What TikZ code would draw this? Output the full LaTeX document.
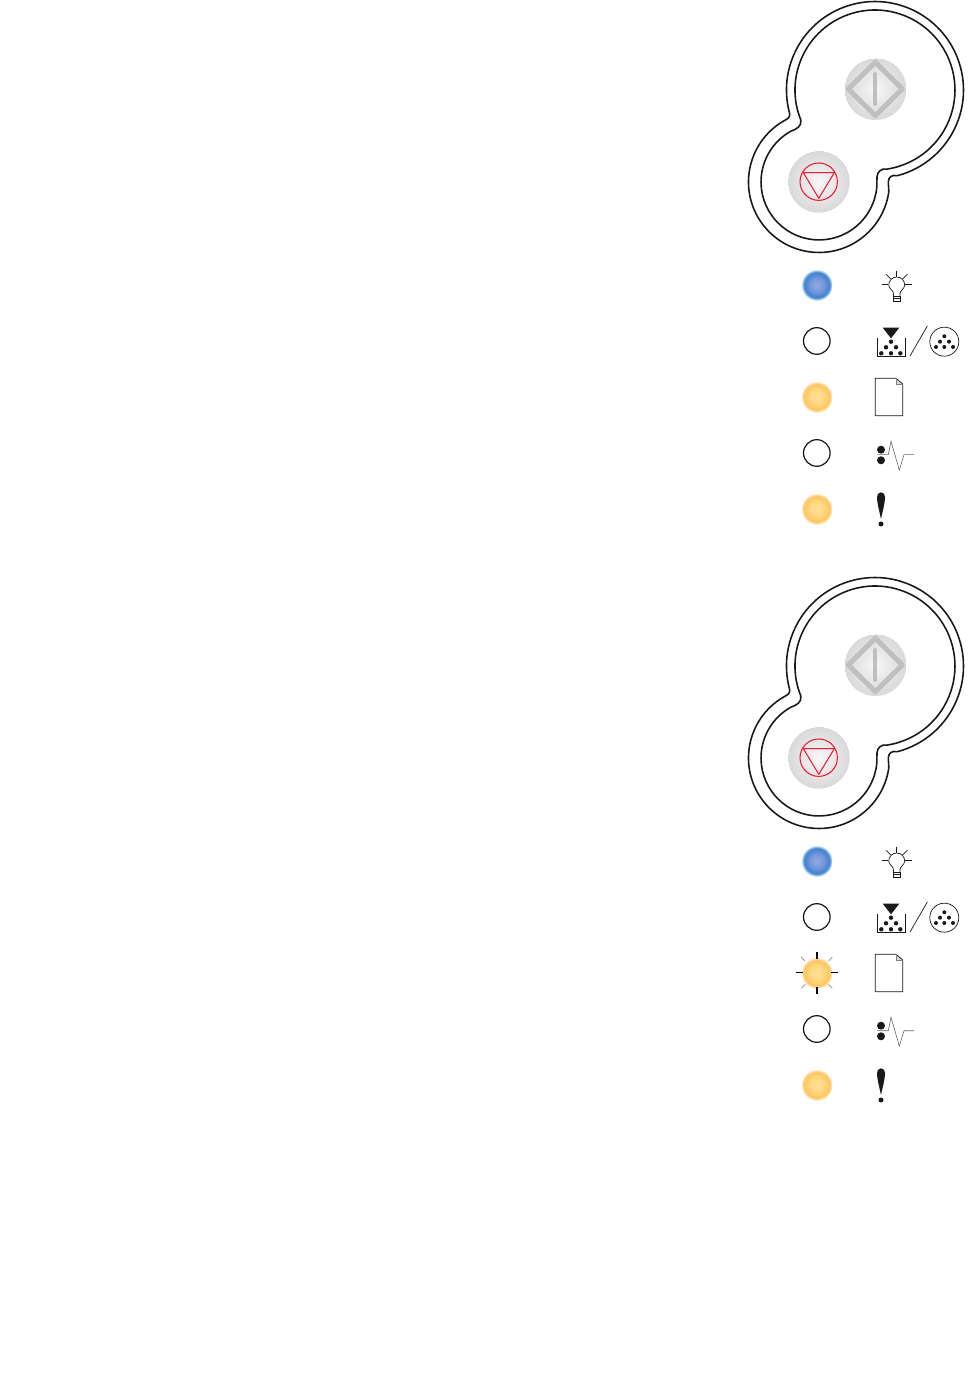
\documentclass[tikz,border=0pt]{standalone}
\pgfdeclareradialshading{ledblue}{\pgfpointorigin}{rgb(0bp)=(0.60,0.66,0.88); rgb(11bp)=(0.45,0.60,0.85); rgb(19.5bp)=(0.26,0.51,0.80); rgb(21bp)=(0.36,0.62,0.88); rgb(23bp)=(0.72,0.86,0.97); rgb(25bp)=(1,1,1)}
\pgfdeclareradialshading{ledamber}{\pgfpointorigin}{rgb(0bp)=(1,0.88,0.60); rgb(12bp)=(1,0.84,0.50); rgb(19.5bp)=(0.99,0.78,0.38); rgb(21bp)=(0.99,0.80,0.45); rgb(23bp)=(1,0.90,0.72); rgb(25bp)=(1,1,1)}
\pgfdeclareradialshading{keydisc}{\pgfpointorigin}{rgb(0bp)=(0.97,0.97,0.97); rgb(14bp)=(0.90,0.90,0.90); rgb(25bp)=(0.85,0.85,0.85)}
\definecolor{stopred}{rgb}{0.93,0.11,0.20}
\tikzset{
    outline/.style={draw=black!90, line width=0.9pt, line join=round},
    thinline/.style={draw=black!90, line width=0.4pt},
    keygray/.style={draw=black!25, line width=2.8pt, line join=round},
    stopline/.style={draw=stopred, line width=0.6pt},
    ledoff/.style={draw=black!90, line width=0.7pt, fill=white},
    fastray/.style={draw=black, line width=0.9pt},
    slowray/.style={draw=black!55, line width=0.3pt}
}
\begin{document}
\begin{tikzpicture}[x=0.02cm, y=0.02cm]
    \useasboundingbox (0,0) rectangle (972,1392);

    \foreach \dy in {0,576}{
    \begin{scope}[shift={(0,-\dy)}]
        % panel outline
        \draw[outline] (789.3,1279.8) arc (194.5:-75.5:88.5) .. controls (892,1217.5) and (888.3,1215) .. (888.3,1210)
            -- (888.8,1200.2) arc (-8:-242:70.5) .. controls (789,1274) and (790.5,1276) .. cycle;
        \draw[outline] (800.8,1272) arc (202:-81.5:80) .. controls (881,1224) and (877.3,1220) .. (877,1215)
            -- (876.8,1205) arc (-5:-241:58) .. controls (797,1263) and (802,1266) .. cycle;

        % start key
        \shade[shading=keydisc] (875.3,1303) circle (31);
        \draw[keygray] (875.3,1329.7) -- (902.3,1303) -- (875.3,1276.3) -- (848.3,1303) -- cycle;
        \draw[draw=black!25, line width=2.2pt, line cap=round] (875.3,1318) -- (875.3,1288);

        % stop key
        \shade[shading=keydisc] (818.7,1210.3) circle (31);
        \draw[stopline] (818.7,1210.3) circle (18.7);
        \draw[stopline, line join=round] (803.3,1219.3) -- (834.3,1219.3) -- (818.8,1193.7) -- cycle;

        % leds
        \shade[shading=ledblue] (816.8,1107) circle (16);
        \draw[ledoff] (816.8,1051) circle (13.3);
        \shade[shading=ledamber] (816.8,995) circle (16);
        \draw[ledoff] (816.8,939) circle (13.3);
        \shade[shading=ledamber] (816.8,883) circle (16);

        % lamp
        \draw[thinline] (893.5,1096) -- (893.5,1098) .. controls (893.5,1102) and (888.7,1103) .. (888.7,1107)
            arc (180:0:8) .. controls (904.7,1103) and (900,1102) .. (900,1098) -- (900,1096);
        \draw[thinline] (893.5,1096) rectangle (900,1090.3);
        \draw[thinline] (893.5,1093.5) -- (900,1093.5);
        \draw[thinline] (896.7,1121.3) -- (896.7,1114.7);
        \draw[thinline] (881.7,1108) -- (888.3,1108);
        \draw[thinline] (905,1108) -- (911.7,1108);
        \draw[thinline] (886,1117.7) -- (891,1113);
        \draw[thinline] (907.3,1117.7) -- (902.7,1113);

        % toner and drum
        \fill[black!90] (882.7,1064.3) -- (899.3,1064.3) -- (891,1053.7) -- cycle;
        \draw[thinline] (877.3,1053.7) -- (877.3,1035.7) -- (905,1035.7) -- (905,1053.7);
        \foreach \x/\y in {891/1050.3,886/1044.7,896/1044.7,881.3/1038.7,891/1038.7,900.3/1038.7}{
            \fill[black!90] (\x,\y) circle (2.2);
        }
        \draw[thinline] (910,1036) -- (927.3,1066);
        \draw[thinline] (944.3,1050.3) circle (14.5);
        \foreach \x/\y in {944.3/1055.7,940/1050.3,949/1050.3,936/1045,944.3/1045,953/1045}{
            \fill[black!90] (\x,\y) circle (2);
        }

        % paper
        \fill[black!15] (896,1013.7) -- (896,1008) -- (902.7,1008) -- cycle;
        \draw[thinline, line join=round] (875.3,1013.7) -- (896,1013.7) -- (902.7,1008) -- (902.7,976.3) -- (875.3,976.3) -- cycle;
        \draw[draw=black!50, line width=0.3pt] (896,1013.7) -- (896,1008) -- (902.7,1008);

        % jam
        \draw[draw=black!60, line width=0.35pt] (877.3,937.3) -- (888.3,937.3) -- (891,950.7) -- (899.3,922) -- (904,937.3) -- (914,937.3);
        \fill[black!90] (881,942.3) circle (4);
        \fill[black!90] (881,931.7) circle (4);

        % error
        \fill[black!90] (881,899.7) .. controls (883.5,899.7) and (885,897.5) .. (885,895)
            .. controls (885,889) and (882.5,880) .. (881,873) .. controls (879.5,880) and (877,889) .. (877,895)
            .. controls (877,897.5) and (878.5,899.7) .. cycle;
        \fill[black!90] (881,868) circle (2.5);
    \end{scope}
    }

    % flashing led of the lower panel
    \foreach \a in {0,90,180,270}{
        \draw[fastray] (816.8,419.3) ++(\a:14) -- ++(\a:7);
    }
    \foreach \a in {45,135,225,315}{
        \draw[slowray] (816.8,419.3) ++(\a:16.5) -- ++(\a:5.5);
    }
\end{tikzpicture}
\end{document}
